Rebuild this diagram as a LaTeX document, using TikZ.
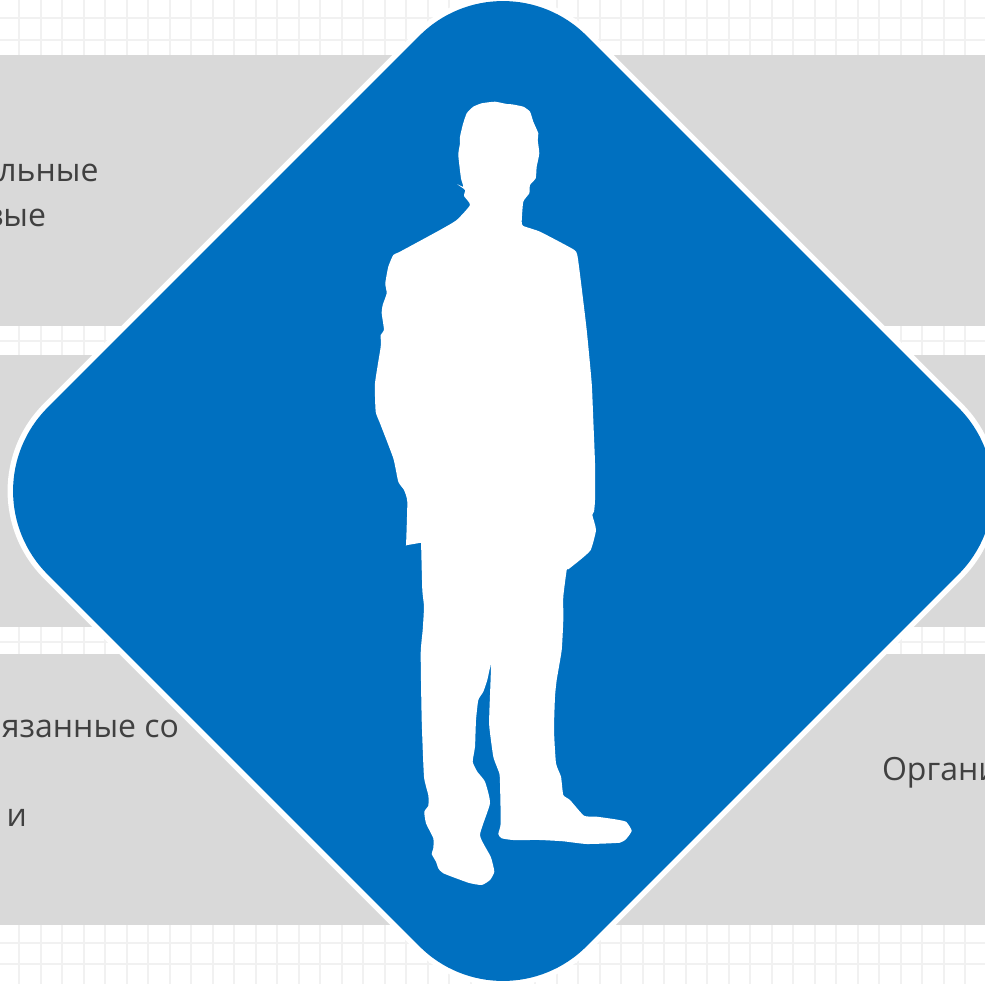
\documentclass[tikz,border=0pt]{standalone}
\usepackage{fontspec}
\setmainfont{Open Sans}
\definecolor{gridc}{HTML}{F1F1F1}
\definecolor{bandc}{HTML}{D9D9D9}
\definecolor{bluec}{HTML}{0070C0}
\definecolor{textc}{HTML}{404040}
\tikzset{
  gridline/.style={draw=gridc,line width=2.3pt},
  band/.style={fill=bandc,draw=none},
  label/.style={text=textc,font=\fontsize{32}{38}\selectfont,inner sep=0pt,outer sep=0pt},
}
\begin{document}
\begin{tikzpicture}[x=1pt,y=-1pt]
\useasboundingbox (0,0) rectangle (985,984);
\clip (0,0) rectangle (985,984);
\fill[white] (0,0) rectangle (985,984);
\foreach \k in {0,...,45}{
  \draw[gridline] ({19.3+21.5*\k},0) -- ({19.3+21.5*\k},984);
  \draw[gridline] (0,{18.3+21.5*\k}) -- (985,{18.3+21.5*\k});
}
\fill[band] (0,55) rectangle (985,326);
\fill[band] (0,355) rectangle (985,627);
\fill[band] (0,654) rectangle (985,925);
\node[label,anchor=base east] (t1) at (98.5,182) {льные};
\node[label,anchor=base east] (t2) at (46,227) {вые};
\node[label,anchor=base east] (t3) at (179,737) {язанные со};
\node[label,anchor=base east] (t4) at (27,826) {и};
\node[label,anchor=base west] (t5) at (882,780) {Органи};
\begin{scope}[shift={(503,491)},rotate=45]
\fill[white,rounded corners=123.5pt] (-386.5,-386.5) rectangle (386.5,386.5);
\fill[bluec,rounded corners=118pt] (-381,-381) rectangle (381,381);
\end{scope}
\fill[white,line join=round] plot[smooth cycle,tension=0.3] coordinates {
(481.7,103.3) (495,101.7) (506.7,104) (511.7,104.3) (523.3,106.7) (530,111.7) (533.3,121.7) (538.3,133.3) (537.7,140) (539.3,153.3) (536.7,166.7) (535.7,178.3) (530,185) (529.3,193.3) (523.3,201.7) (521.7,221.7) (523.3,226) (540,231.7) (573.3,249.3) (577.3,255) (580.7,280) (586.7,330) (591.7,383.3) (593.3,420) (595,463.3) (595,500) (594,511.7) (592.3,515) (596,530) (590.7,550) (580,560) (568.3,569.3) (566.7,570) (563.3,596.7) (563.3,620) (561.7,650) (556.7,680) (555,696.7) (554,730) (556,763.3) (561,776.7) (563.3,795) (570,800) (584,815.7) (596.7,816.7) (613.3,819) (626,821.7) (631.7,830.7) (626.7,838.3) (620,842.7) (586.7,844) (563.3,841.3) (540,840) (513.3,840) (501.7,838.3) (498.3,834) (500.7,823.3) (500,783.3) (499.3,773.3) (493.3,756.7) (489.3,726.7) (489.3,713.3) (491,665) (487.3,680) (483.3,691.7) (478.3,700) (476,720) (475,746.7) (472.7,761.7) (477.3,771.7) (485,781.7) (490,803.3) (480,835) (490.7,856.7) (494.3,871.7) (490,880) (481.7,885) (468.3,882.7) (443.3,873.3) (438.3,868.3) (436,861.7) (431.7,854) (433.3,848.3) (433.3,838.3) (426,823.3) (424.3,811.7) (428.3,805.7) (428.3,795) (424,776.7) (421.7,720) (420.7,653.3) (422.7,630) (424,606.7) (422.3,590) (421.2,548) (421,542.7) (420,542.9) (407,545.1) (406,545.3) (406.1,544) (407.3,501.7) (404,490) (398.3,481.7) (393.3,458.3) (380,423.3) (375.7,411.7) (375,383.3) (380.7,346.7) (380.7,335) (384,330) (381.7,313.3) (382.7,305) (386.7,293.3) (385.3,283.3) (388.3,266.7) (393.3,255) (400,251.7) (440,230) (456.7,220) (470,205) (464,196) (465,190) (457.3,184.3) (463.3,186.7) (461,178.3) (458.3,155) (460,143.3) (460,136.7) (463,124) (466.7,113.3) (473.3,106.7)
};
\end{tikzpicture}
\end{document}
